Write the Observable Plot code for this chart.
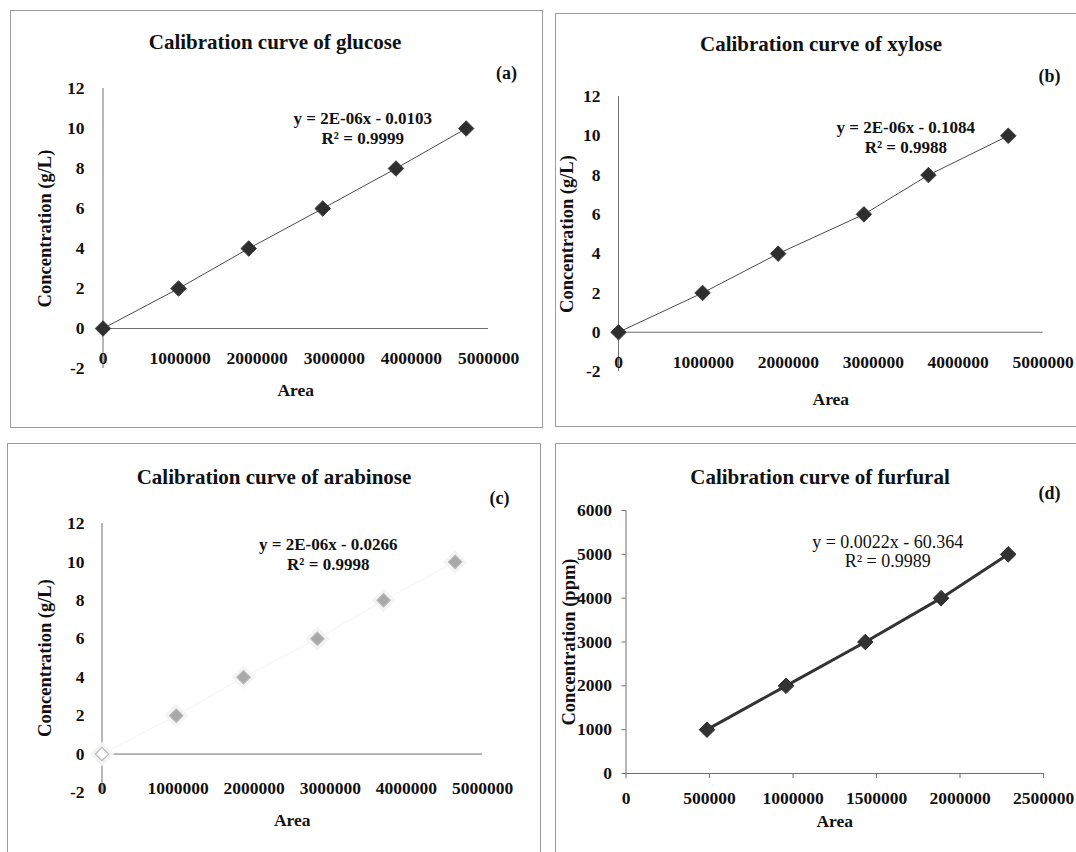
<!DOCTYPE html>
<html><head><meta charset="utf-8">
<script src="https://cdn.jsdelivr.net/npm/d3@7"></script>
<script src="https://cdn.jsdelivr.net/npm/@observablehq/plot@0.6"></script>
<style>
html,body{margin:0;padding:0;background:#fff;}
#root{position:relative;width:1076px;height:852px;overflow:hidden;background:#fff;font-family:"Liberation Serif","Times New Roman",serif;}
.panel{position:absolute;border:1px solid #9c9c9c;box-sizing:border-box;}
.title{position:absolute;width:400px;text-align:center;font-weight:bold;font-size:21px;color:#111;line-height:24px;white-space:nowrap;}
.chart{position:absolute;}
.chart svg{max-width:none !important;}
</style></head>
<body><div id="root"></div>
<script>
// ---- data ----
const concSugar = [0, 2, 4, 6, 8, 10];
const glucoseArea = [0, 980000, 1890000, 2850000, 3800000, 4710000];
const xyloseArea = [0, 990000, 1880000, 2890000, 3650000, 4590000];
const arabinoseArea = [0, 975000, 1860000, 2830000, 3700000, 4640000];
const furfuralArea = [485000, 958000, 1433000, 1887000, 2289000];
const furfuralConc = [1000, 2000, 3000, 4000, 5000];

const sugarXTicks = [0, 1000000, 2000000, 3000000, 4000000, 5000000];
const sugarYTicks = [-2, 0, 2, 4, 6, 8, 10, 12];
const furfuralXTicks = [0, 500000, 1000000, 1500000, 2000000, 2500000];
const furfuralYTicks = [0, 1000, 2000, 3000, 4000, 5000, 6000];

const titles = ["Calibration curve of glucose", "Calibration curve of xylose", "Calibration curve of arabinose", "Calibration curve of furfural"];
const panelTags = ["(a)", "(b)", "(c)", "(d)"];
const equations = [
  ["y = 2E-06x - 0.0103", "R² = 0.9999"],
  ["y = 2E-06x - 0.1084", "R² = 0.9988"],
  ["y = 2E-06x - 0.0266", "R² = 0.9998"],
  ["y = 0.0022x - 60.364", "R² = 0.9989"]
];
const xLabel = "Area";
const yLabels = ["Concentration (g/L)", "Concentration (g/L)", "Concentration (g/L)", "Concentration (ppm)"];

const table = (xs, ys) => xs.map((a, i) => ({area: a, conc: ys[i]}));

// ---- layout ----
const root = document.getElementById("root");
const panels = [
  {box:[10,10,533,418], svg:[533,418], m:[92.5,55,78,60], title:[275,42], data: table(glucoseArea, concSugar),
   xd:[0,5000000], yd:[-2,12], xt:sugarXTicks, yt:sugarYTicks, xPad:-16.5, xTick:0, yPad:18.5, yTick:0,
   xLab:27, yLabDx:-57.5, eq:[67,39], tag:[18,-15], style:"dark"},
  {box:[555,13,540,414], svg:[540,414], m:[63,52.4,83,56], title:[821,44], data: table(xyloseArea, concSugar),
   xd:[0,5000000], yd:[-2,12], xt:sugarXTicks, yt:sugarYTicks, xPad:-15.5, xTick:0, yPad:18, yTick:0,
   xLab:33.6, yLabDx:-51, eq:[75,40.5], tag:[6.4,-20], style:"dark"},
  {box:[7,443,534,430], svg:[534,420], m:[94.5,59,80,71], title:[274,477], data: table(arabinoseArea, concSugar),
   xd:[0,5000000], yd:[-2,12], xt:sugarXTicks, yt:sugarYTicks, xPad:-10.5, xTick:0, yPad:17.5, yTick:0,
   xLab:33.6, yLabDx:-56.5, eq:[36,30], tag:[17,-25], style:"faded"},
  {box:[555,443,540,430], svg:[540,420], m:[70.5,52,67,90], title:[820,477], data: table(furfuralArea, furfuralConc),
   xd:[0,2500000], yd:[0,6000], xt:furfuralXTicks, yt:furfuralYTicks, xPad:13.5, xTick:5, yPad:10, yTick:4,
   xLab:53.6, yLabDx:-56.5, eq:[53,41], tag:[6,-17], style:"thick"}
];

panels.forEach((p, i) => {
  const box = document.createElement("div");
  box.className = "panel";
  Object.assign(box.style, {left: p.box[0] + "px", top: p.box[1] + "px", width: p.box[2] + "px", height: p.box[3] + "px"});
  root.appendChild(box);

  const marks = [
    Plot.ruleX([0], {stroke: "#6e6e6e", strokeWidth: 1}),
    Plot.ruleY([0], {stroke: "#6e6e6e", strokeWidth: 1})
  ];
  if (p.style === "dark") {
    marks.push(Plot.line(p.data, {x: "area", y: "conc", stroke: "#4a4a4a", strokeWidth: 1}));
    marks.push(Plot.dot(p.data, {x: "area", y: "conc", symbol: "diamond2", r: 7, fill: "#2e2e2e", stroke: "#444", strokeWidth: 1}));
  } else if (p.style === "faded") {
    marks.push(Plot.line(p.data, {x: "area", y: "conc", stroke: "#f4f4f4", strokeWidth: 1}));
    marks.push(Plot.dot(p.data, {x: "area", y: "conc", symbol: "diamond2", r: 11, fill: "#f4f4f4", stroke: "none"}));
    marks.push(Plot.dot(p.data, {x: "area", y: "conc", symbol: "diamond2", r: 6,
      fill: d => d.area === 0 ? "#ffffff" : "#a8a8a8", stroke: "#b8b8b8", strokeWidth: 1.2}));
  } else {
    marks.push(Plot.line(p.data, {x: "area", y: "conc", stroke: "#333", strokeWidth: 3}));
    marks.push(Plot.dot(p.data, {x: "area", y: "conc", symbol: "diamond2", r: 7, fill: "#333", stroke: "#2a2a2a", strokeWidth: 1}));
  }
  marks.push(
    Plot.axisX(p.xt, {anchor: "bottom", tickSize: p.xTick, tickPadding: p.xPad, stroke: "#6e6e6e",
      tickFormat: d => String(d), label: xLabel, labelAnchor: "center", labelOffset: p.xLab, labelArrow: "none",
      fontSize: 17.5, fontWeight: "bold", fill: "#111"}),
    Plot.axisY(p.yt, {anchor: "left", tickSize: p.yTick, tickPadding: p.yPad, stroke: "#6e6e6e",
      tickFormat: d => String(d), label: null, fontSize: 17.5, fontWeight: "bold", fill: "#111"}),
    Plot.text([yLabels[i]], {frameAnchor: "left", dx: p.yLabDx, rotate: -90, textAnchor: "middle", lineAnchor: "middle",
      fontSize: 18.5, fontWeight: "bold", fill: "#111"}),
    Plot.text([equations[i].join("\n")], {frameAnchor: "top", dx: p.eq[0], dy: p.eq[1], textAnchor: "middle",
      lineAnchor: "middle", lineHeight: i === 3 ? 1.05 : 1.17, fontSize: i === 3 ? 18 : 17, fontWeight: i === 3 ? "normal" : "bold", fill: "#111"}),
    Plot.text([panelTags[i]], {frameAnchor: "top-right", dx: p.tag[0], dy: p.tag[1], textAnchor: "middle",
      lineAnchor: "middle", fontSize: 18, fontWeight: "bold", fill: "#111"})
  );

  const chart = Plot.plot({
    width: p.svg[0], height: p.svg[1],
    marginLeft: p.m[0], marginRight: p.m[1], marginTop: p.m[2], marginBottom: p.m[3],
    x: {domain: p.xd}, y: {domain: p.yd},
    style: {fontFamily: "'Liberation Serif', 'Times New Roman', serif", fontSize: "17px", color: "#111", background: "transparent", overflow: "visible", maxWidth: "none"},
    marks
  });
  const holder = document.createElement("div");
  holder.className = "chart";
  Object.assign(holder.style, {left: p.box[0] + "px", top: p.box[1] + "px", width: p.svg[0] + "px", height: p.svg[1] + "px"});
  holder.appendChild(chart);
  root.appendChild(holder);

  const t = document.createElement("div");
  t.className = "title";
  t.textContent = titles[i];
  Object.assign(t.style, {left: (p.title[0] - 200) + "px", top: (p.title[1] - 12) + "px"});
  root.appendChild(t);
});
</script>
</body></html>
